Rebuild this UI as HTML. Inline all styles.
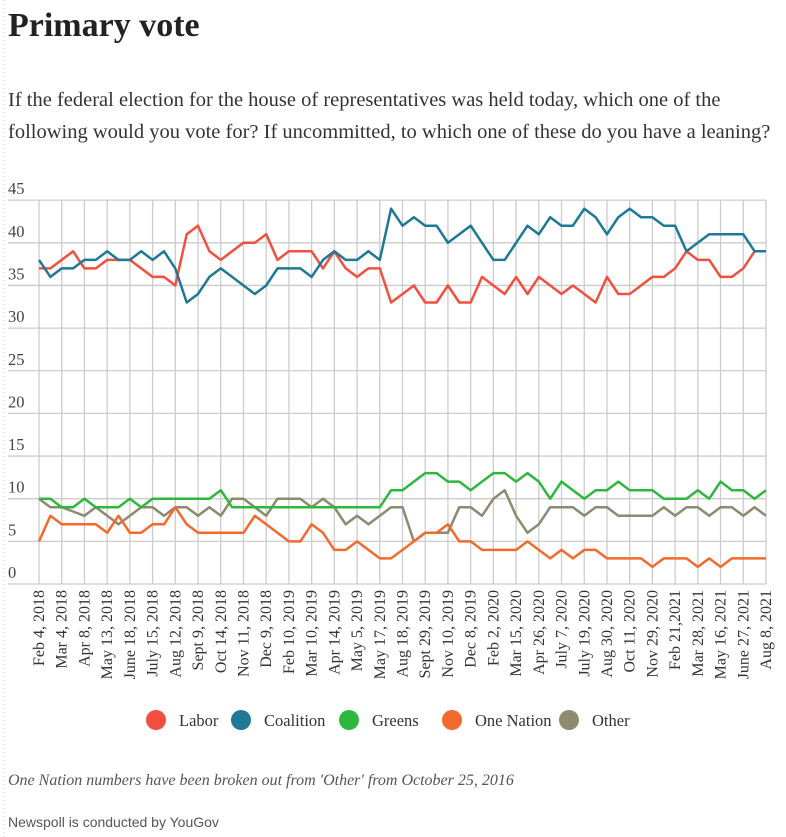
<!DOCTYPE html>
<html><head><meta charset="utf-8"><style>
body{margin:0;background:#fff;width:786px;height:837px;overflow:hidden}
svg{display:block}
</style></head><body>
<svg id="chart" width="786" height="837" xmlns="http://www.w3.org/2000/svg" font-family="'Liberation Serif', serif">
<line x1="4" y1="0" x2="4" y2="837" stroke="#ccc" stroke-dasharray="1,3"/>
<text x="8" y="36" font-size="34" font-weight="bold" fill="#222">Primary vote</text>
<text x="8" y="106" font-size="20.5" fill="#333">If the federal election for the house of representatives was held today, which one of the</text>
<text x="8" y="138" font-size="20.5" fill="#333">following would you vote for? If uncommitted, to which one of these do you have a leaning?</text>
<g id="grid"></g><g id="series"></g><g id="xlabels"></g>
<g font-size="16.5" fill="#333">
<circle cx="156" cy="720" r="10" fill="#f2503f"/><text x="179" y="726">Labor</text>
<circle cx="241" cy="720" r="10" fill="#1f7896"/><text x="264" y="726">Coalition</text>
<circle cx="349" cy="720" r="10" fill="#2db83d"/><text x="372" y="726">Greens</text>
<circle cx="452" cy="720" r="10" fill="#f26a2e"/><text x="475" y="726">One Nation</text>
<circle cx="569" cy="720" r="10" fill="#8c8a70"/><text x="592" y="726">Other</text>
</g>
<text x="8" y="785" font-size="16" font-style="italic" fill="#555">One Nation numbers have been broken out from 'Other' from October 25, 2016</text>
<text x="8" y="827" font-size="14" font-family="'Liberation Sans', sans-serif" fill="#555">Newspoll is conducted by YouGov</text>
</svg>
<script>
const xLabels=["Feb 4, 2018","Mar 4, 2018","Apr 8, 2018","May 13, 2018","June 18, 2018","July 15, 2018","Aug 12, 2018","Sept 9, 2018","Oct 14, 2018","Nov 11, 2018","Dec 9, 2018","Feb 10, 2019","Mar 10, 2019","Apr 14, 2019","May 5, 2019","May 17, 2019","Aug 18, 2019","Sept 29, 2019","Nov 10, 2019","Dec 8, 2019","Feb 2, 2020","Mar 15, 2020","Apr 26, 2020","July 7, 2020","July 19, 2020","Aug 30, 2020","Oct 11, 2020","Nov 29, 2020","Feb 21,2021","Mar 28, 2021","May 16, 2021","June 27, 2021","Aug 8, 2021"];
const yTicks=[0,5,10,15,20,25,30,35,40,45];
const labor=[37,37,38,39,37,37,38,38,38,37,36,36,35,41,42,39,38,39,40,40,41,38,39,39,39,37,39,37,36,37,37,33,34,35,33,33,35,33,33,36,35,34,36,34,36,35,34,35,34,33,36,34,34,35,36,36,37,39,38,38,36,36,37,39,39];
const coalition=[38,36,37,37,38,38,39,38,38,39,38,39,37,33,34,36,37,36,35,34,35,37,37,37,36,38,39,38,38,39,38,44,42,43,42,42,40,41,42,40,38,38,40,42,41,43,42,42,44,43,41,43,44,43,43,42,42,39,40,41,41,41,41,39,39];
const greens=[10,10,9,9,10,9,9,9,10,9,10,10,10,10,10,10,11,9,9,9,9,9,9,9,9,9,9,9,9,9,9,11,11,12,13,13,12,12,11,12,13,13,12,13,12,10,12,11,10,11,11,12,11,11,11,10,10,10,11,10,12,11,11,10,11];
const oneNation=[5,8,7,7,7,7,6,8,6,6,7,7,9,7,6,6,6,6,6,8,7,6,5,5,7,6,4,4,5,4,3,3,4,5,6,6,7,5,5,4,4,4,4,5,4,3,4,3,4,4,3,3,3,3,2,3,3,3,2,3,2,3,3,3,3];
const other=[10,9,9,8.5,8,9,8,7,8,9,9,8,9,9,8,9,8,10,10,9,8,10,10,10,9,10,9,7,8,7,8,9,9,5,6,6,6,9,9,8,10,11,8,6,7,9,9,9,8,9,9,8,8,8,8,9,8,9,9,8,9,9,8,9,8];
const NS='http://www.w3.org/2000/svg';
const x0=39,x1=766,yBase=584,yPer=8.53,n=labor.length;
const xs=i=>x0+(x1-x0)*i/(n-1);
const ys=v=>yBase-v*yPer;
function mk(tag,attrs,parent){const e=document.createElementNS(NS,tag);for(const k in attrs)e.setAttribute(k,attrs[k]);parent.appendChild(e);return e;}
const grid=document.getElementById('grid');
yTicks.forEach(t=>{
 const l=mk('line',{x1:8,x2:766,y1:ys(t),y2:ys(t),stroke:'#ccc','stroke-width':1.3},grid);
 
 
 const tx=mk('text',{x:8,y:ys(t)-6,'font-size':16.5,fill:'#444'},grid);
 tx.textContent=t;
 
 
});
const xl=document.getElementById('xlabels');
xLabels.forEach((lab,k)=>{
 const x=xs(k*2);
 const l=mk('line',{x1:x,x2:x,y1:ys(45),y2:yBase,stroke:'#ccc','stroke-width':1.3},grid);
 
 
 const t=mk('text',{x:0,y:0,'font-size':16,fill:'#333','text-anchor':'end',transform:`translate(${x+5},${yBase+6}) rotate(-90)`},xl);
 t.textContent=lab;
 
 
});
const ser=document.getElementById('series');
[[other,'#8c8a70','other-line'],[oneNation,'#f26a2e','one-nation-line'],[greens,'#2db83d','greens-line'],[labor,'#f2503f','labor-line'],[coalition,'#1f7896','coalition-line']].forEach(([d,c,name])=>{
 const p=mk('polyline',{points:d.map((v,i)=>xs(i).toFixed(1)+','+ys(v).toFixed(1)).join(' '),fill:'none',stroke:c,'stroke-width':2.5,'stroke-linejoin':'round'},ser);
 
 
});
</script>
</body></html>
